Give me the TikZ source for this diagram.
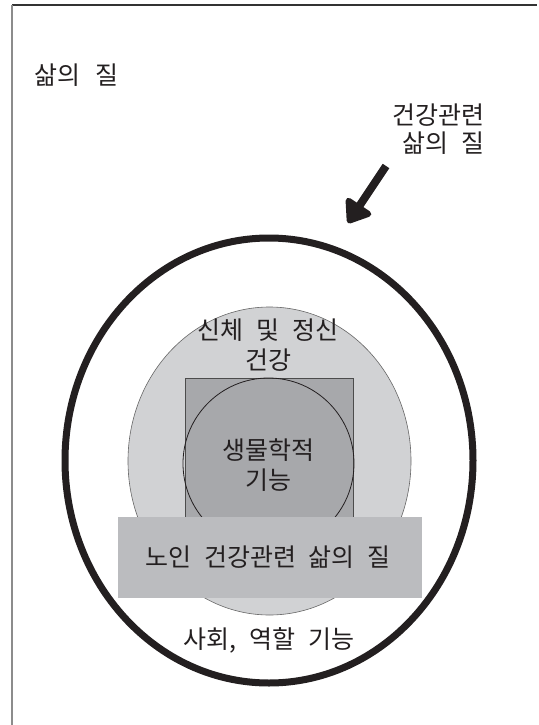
\documentclass[tikz,border=0pt]{standalone}
\usepackage{fontspec}
\setmainfont[WordSpace=2.3]{Noto Sans CJK KR}
\usetikzlibrary{arrows.meta}
\definecolor{txt}{HTML}{231F20}
\definecolor{lightfill}{HTML}{D1D2D4}
\definecolor{sqfill}{HTML}{A7A8AB}
\definecolor{barfill}{HTML}{BBBCBF}
\tikzset{
  lbl/.style={text=txt, font=\fontsize{25}{30}\selectfont, inner sep=0pt, align=center},
}
\begin{document}
\begin{tikzpicture}[x=1pt,y=-1pt]
\useasboundingbox (0,0) rectangle (538,725);
% frame
\draw[line width=1.6pt, color=black!80] (12,5) -- (537,5);
\draw[line width=2pt, color=black!45] (12,5) -- (12,725);
% outer ellipse
\draw[line width=7pt, color=txt] (269,460.5) ellipse [x radius=204, y radius=222.5];
% light ellipse
\draw[line width=0.6pt, color=black!60, fill=lightfill] (269.5,461) ellipse [x radius=141.5, y radius=154];
% square
\draw[line width=0.8pt, color=black!70, fill=sqfill] (185,378) rectangle (353,517);
% inner circle
\draw[line width=0.8pt, color=txt] (268.5,463.5) ellipse [x radius=85.5, y radius=85.5];
% bottom bar
\fill[barfill] (118,517) rectangle (422,598);
% texts
\node[lbl, anchor=west] (qol) at (34,75) {삶의\hspace{2pt} 질};
\node[lbl, align=right, anchor=east] (hrq) at (485,129) {건강관련\\[-2pt]삶의 질};
\node[lbl] (phys) at (268,345) {신체 및 정신\\건강};
\node[lbl] (bio) at (268,465) {생물학적\\기능};
\node[lbl] (elder) at (268,557) {노인 건강관련 삶의 질};
\node[lbl] (soc) at (269,640) {사회, 역할 기능};
% arrow
\coordinate (as) at (386,166);
\coordinate (ae) at (348,223);
\draw[line width=8pt, color=txt, -{Triangle[length=24pt,width=34pt,round]}] (as) -- (ae);
\end{tikzpicture}
\end{document}
